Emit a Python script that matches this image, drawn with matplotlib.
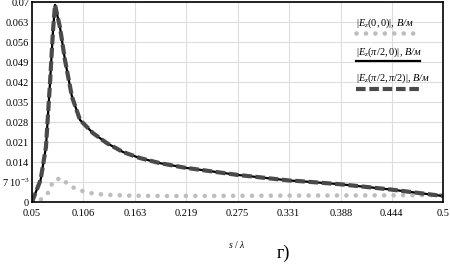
import numpy as np
import matplotlib
matplotlib.use("Agg")
import matplotlib.pyplot as plt
from matplotlib.lines import Line2D

matplotlib.rcParams.update({'font.family': 'Liberation Serif',
                            'mathtext.fontset': 'custom',
                            'mathtext.rm': 'Liberation Serif',
                            'mathtext.it': 'Liberation Serif:italic'})

# |Ez(pi/2,0)| and |Ez(pi/2,pi/2)| (curves coincide)
s_main = [0.05, 0.053, 0.0594, 0.0653, 0.0697, 0.073, 0.0752, 0.0807, 0.0861,
          0.0938, 0.1026, 0.1168, 0.132, 0.1496, 0.168, 0.19, 0.2175, 0.2745,
          0.3325, 0.3434, 0.388, 0.442, 0.5]
e_pi2_0 = [0.0, 0.0025, 0.0077, 0.0193, 0.0416, 0.060, 0.069, 0.061, 0.0497,
           0.0368, 0.0287, 0.0241, 0.0206, 0.0175, 0.0154, 0.0136, 0.012, 0.0095,
           0.0075, 0.0073, 0.0062, 0.0044, 0.0021]
e_pi2_pi2 = [0.0, 0.0025, 0.0077, 0.0193, 0.0416, 0.060, 0.069, 0.061, 0.0497,
             0.0368, 0.0287, 0.0241, 0.0206, 0.0175, 0.0154, 0.0136, 0.012, 0.0095,
             0.0075, 0.0073, 0.0062, 0.0044, 0.0021]

# |Ez(0,0)|
s_00 = [0.05, 0.059, 0.0686, 0.073, 0.0818, 0.0916, 0.1015, 0.112, 0.122,
        0.133, 0.16, 0.2, 0.3, 0.4, 0.5]
e_00 = [0.0, 0.0007, 0.0035, 0.0074, 0.0084, 0.0056, 0.0042, 0.0032, 0.0028,
        0.0025, 0.0022, 0.0021, 0.0022, 0.0023, 0.0024]

xticks = [0.05, 0.106, 0.163, 0.219, 0.275, 0.331, 0.388, 0.444, 0.5]
xtick_labels = ["0.05", "0.106", "0.163", "0.219", "0.275", "0.331", "0.388", "0.444", "0.5"]
yticks = [0, 0.007, 0.014, 0.021, 0.028, 0.035, 0.042, 0.049, 0.056, 0.063, 0.07]
ytick_labels = ["0", "7 10$^{-3}$", "0.014", "0.021", "0.028", "0.035", "0.042",
                "0.049", "0.056", "0.063", "0.07"]

labels = ["$|E_z(0,0)|$, В/м", "$|E_z(\\pi/2,0)|$, В/м", "$|E_z(\\pi/2,\\pi/2)|$, В/м"]

fig = plt.figure(figsize=(4.5, 2.64), dpi=100)
ax = fig.add_axes([32/450, 1-202/264, 411/450, 200/264])

dot_style = dict(color="#bdbdbd", lw=3.3, linestyle=(0, (0.01, 2.05)),
                 dash_capstyle="round")
solid_style = dict(color="black", lw=1.6)
dash_style = dict(color="#4a4a4a", lw=3.0, linestyle=(0, (2.3, 0.9)))

ax.plot(s_00, e_00, **dot_style)
ax.plot(s_main, e_pi2_0, **solid_style)
ax.plot(s_main, e_pi2_pi2, **dash_style)

ax.set_xlim(0.05, 0.5)
ax.set_ylim(0, 0.07)
ax.set_xticks(xticks)
ax.set_xticklabels(xtick_labels)
ax.set_yticks(yticks)
ax.set_yticklabels(ytick_labels)
ax.tick_params(length=0, labelsize=7.5, pad=2)
ax.tick_params(axis="x", pad=5)
ax.grid(True, color="#dddddd", lw=0.8)
ax.set_axisbelow(True)
for sp in ax.spines.values():
    sp.set_linewidth(1.2)

# legend: text above each line sample
lx0, lx1 = (356-32)/411, (420-32)/411
ys_text = [(202-23)/200, (202-52)/200, (202-78)/200]
ys_line = [(202-33)/200, (202-61)/200, (202-89)/200]
styles = [dot_style, solid_style, dash_style]
for lab, yt, yl, st in zip(labels, ys_text, ys_line, styles):
    ax.text(lx0, yt, lab, transform=ax.transAxes, fontsize=7.5, fontstyle="italic",
            va="center", ha="left")
    ax.add_line(Line2D([lx0, lx1], [yl, yl], transform=ax.transAxes, **st))

fig.text(237/450, 1-245/264, "$s\\ /\\ \\lambda$", fontsize=7, ha="center", va="center")
fig.text(283/450, 1-253/264, "г)", fontsize=13, ha="center", va="center")

fig.savefig("out.png", dpi=100)
